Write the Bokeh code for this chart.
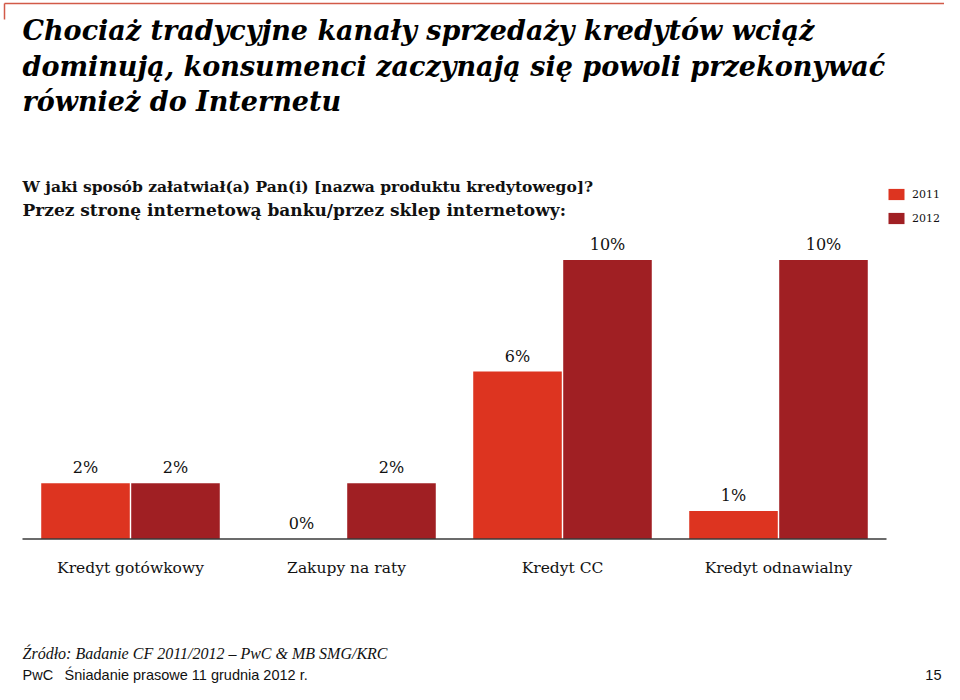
from bokeh.plotting import figure
from bokeh.models import ColumnDataSource, Range1d, Label, Legend, LegendItem
from bokeh.core.properties import value
from bokeh.embed import file_html
from bokeh.resources import INLINE

# ---- data ----
categories = ["Kredyt gotówkowy", "Zakupy na raty", "Kredyt CC", "Kredyt odnawialny"]
years = ["2011", "2012"]
v2011 = [2, 0, 6, 1]
v2012 = [2, 2, 10, 10]

title_lines = [
    "Chociaż tradycyjne kanały sprzedaży kredytów wciąż",
    "dominują, konsumenci zaczynają się powoli przekonywać",
    "również do Internetu",
]
subtitle_1 = "W jaki sposób załatwiał(a) Pan(i) [nazwa produktu kredytowego]?"
subtitle_2 = "Przez stronę internetową banku/przez sklep internetowy:"
source_text = "Źródło: Badanie CF 2011/2012 – PwC & MB SMG/KRC"
footer_left = "PwC"
footer_mid = "Śniadanie prasowe 11 grudnia  2012 r."
footer_page = "15"

# ---- style / layout ----
C2011 = "#dd3420"
C2012 = "#a01f23"
ACCENT = "#d25a48"
SERIF = "DejaVu Serif"
SANS = "Liberation Sans"
TXT = "#111111"
W, H = 944, 684
PX_PER_CAT = 216.0      # pixels per category slot
LEFT = 22.0             # pixel x of the first slot's left edge
BASE = 538.5            # pixel y (from top) of the zero line
PX_PER_PCT = 27.9       # pixels per percentage point
OFF = 0.2083            # dodge of the two series within a slot
BW = 0.41               # bar width (slot units)

n = len(categories)
xc = [i + 0.5 for i in range(n)]
src = ColumnDataSource(dict(
    cat=categories,
    x1=[x - OFF for x in xc],
    x2=[x + OFF for x in xc],
    xc=xc,
    v2011=v2011,
    v2012=v2012,
    l2011=[f"{v}%" for v in v2011],
    l2012=[f"{v}%" for v in v2012],
))

p = figure(width=W, height=H,
           x_range=Range1d(-LEFT / PX_PER_CAT, (W - LEFT) / PX_PER_CAT),
           y_range=Range1d(-(H - BASE) / PX_PER_PCT, BASE / PX_PER_PCT),
           output_backend="svg", toolbar_location=None,
           x_axis_location=None, y_axis_location=None,
           min_border=0)
p.outline_line_color = None
p.xgrid.grid_line_color = None
p.ygrid.grid_line_color = None
p.background_fill_color = "white"
p.border_fill_color = "white"


def dx(px):
    return (px - LEFT) / PX_PER_CAT


def dy(py):
    return (BASE - py) / PX_PER_PCT


# decorative accent line at the top of the slide
p.segment(x0=[dx(4), dx(4)], y0=[dy(3), dy(3)], x1=[dx(960), dx(4)], y1=[dy(3), dy(19)],
          line_color=ACCENT, line_width=1.5)

r1 = p.vbar(x="x1", top="v2011", width=BW, source=src,
            fill_color=C2011, line_color=None)
r2 = p.vbar(x="x2", top="v2012", width=BW, source=src,
            fill_color=C2012, line_color=None)

for xcol, col, lab in (("x1", "v2011", "l2011"), ("x2", "v2012", "l2012")):
    p.text(x=xcol, y=col, text=lab, source=src,
           text_align="center", text_baseline="bottom", y_offset=-6,
           text_font=value(SERIF), text_font_size="16px", text_color=TXT)

# baseline (category axis line)
p.segment(x0=[0], y0=[0], x1=[n], y1=[0], line_color="#3a3a3a", line_width=1.5)

# category labels
p.text(x="xc", y=0, text="cat", source=src, text_align="center",
       text_baseline="middle", y_offset=29,
       text_font=value(SERIF), text_font_size="15.5px", text_color=TXT)

legend = Legend(items=[LegendItem(label=years[0], renderers=[r1]),
                       LegendItem(label=years[1], renderers=[r2])],
                location=(886, H - 187 - 38), orientation="vertical",
                glyph_width=20, glyph_height=14, label_height=14,
                spacing=10, padding=0, margin=0, label_standoff=6,
                border_line_color=None, background_fill_alpha=0,
                label_text_font=SERIF, label_text_font_size="11px",
                label_text_color=TXT)
p.add_layout(legend)


def lab(text, rx, ry, size, style="normal", font=SERIF, align="left", color=TXT):
    p.add_layout(Label(x=rx, y=H - ry, x_units="screen", y_units="screen",
                       text=text, text_font=font, text_font_style=style,
                       text_font_size=size, text_align=align,
                       text_baseline="middle", text_color=color))


for i, t in enumerate(title_lines):
    lab(t, 22, 30 + i * 35.5, "27px", "bold italic", color="#000000")

lab(subtitle_1, 22, 186, "15.5px", "bold")
lab(subtitle_2, 22, 209, "17px", "bold")
lab(source_text, 22, 653, "16px", "italic", font="Liberation Serif")
lab(footer_left, 22, 674, "14.5px", font=SANS)
lab(footer_mid, 64, 674, "14.5px", font=SANS)
lab(footer_page, 941, 674, "14.5px", font=SANS, align="right")

open("out.html", "w").write(file_html(p, INLINE))
